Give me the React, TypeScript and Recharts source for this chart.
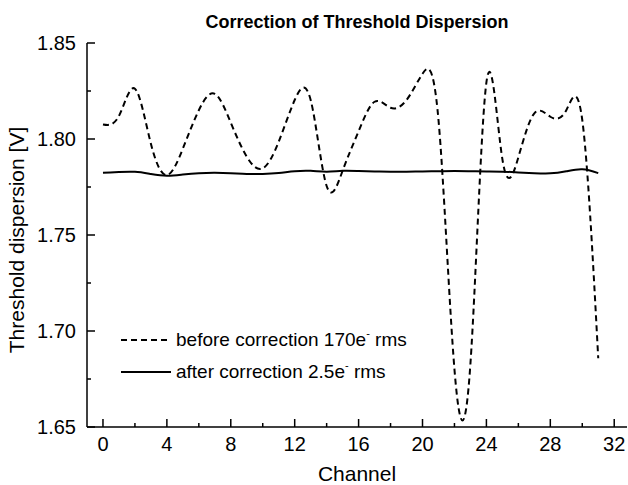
import React from 'react';
import { LineChart, Line, XAxis, YAxis, Legend } from 'recharts';

// ---------- data ----------
const channels = [
  0, 1, 2, 3, 4, 5, 6, 7, 8, 9, 10, 11, 12, 13, 14, 15,
  16, 17, 18, 19, 20, 21, 22, 23, 24, 25, 26, 27, 28, 29, 30, 31,
];
const beforeCorrection = [
  1.8076, 1.8120, 1.8262, 1.7975, 1.7812, 1.7950, 1.8150, 1.8235,
  1.8085, 1.7908, 1.7847, 1.7986, 1.8203, 1.8203, 1.7755, 1.7835,
  1.8040, 1.8194, 1.8163, 1.8203, 1.8340, 1.8100, 1.6800, 1.6830,
  1.8295, 1.7895, 1.7905, 1.8134, 1.8116, 1.8150, 1.8099, 1.6858,
];
const afterCorrection = [
  1.7824, 1.7828, 1.7829, 1.7818, 1.7809, 1.7815, 1.7822, 1.7824,
  1.7822, 1.7818, 1.7818, 1.7823, 1.7832, 1.7834, 1.7830, 1.7834,
  1.7833, 1.7831, 1.7830, 1.7830, 1.7831, 1.7832, 1.7833, 1.7832,
  1.7831, 1.7830, 1.7826, 1.7822, 1.7821, 1.7832, 1.7842, 1.7822,
];
const xTicks = [0, 2, 4, 6, 8, 10, 12, 14, 16, 18, 20, 22, 24, 26, 28, 30, 32];
const yTicks = [1.65, 1.675, 1.7, 1.725, 1.75, 1.775, 1.8, 1.825, 1.85];
const xDomain = [-1, 32.8];
const yDomain = [1.65, 1.85];
const seriesNames = ['before correction 170e', 'after correction 2.5e'];
const seriesSuffix = ' rms';
const chartTitle = 'Correction of Threshold Dispersion';
const xTitle = 'Channel';
const yTitle = 'Threshold dispersion [V]';

const data = channels.map((ch, i) => ({
  ch,
  before: beforeCorrection[i],
  after: afterCorrection[i],
}));

// ---------- style ----------
const FONT = '"Liberation Sans", Arial, Helvetica, sans-serif';
const AXIS_W = 1.5;
const TICK_FONT = 20;
const isMajorX = (v: number) => Math.round(v) % 4 === 0;
const isMajorY = (v: number) => Math.round(v * 1000) % 50 === 0;
const DASH = '6 4';

const BottomTick = (props: any) => {
  const { x, y, payload } = props;
  const v = payload.value;
  const major = isMajorX(v);
  return (
    <g>
      <line x1={x} x2={x} y1={y} y2={y - (major ? 8 : 4)} stroke="#000" strokeWidth={AXIS_W} />
      {major && (
        <text x={x} y={y + 24} textAnchor="middle" fontSize={TICK_FONT} fontFamily={FONT} fill="#000">
          {v}
        </text>
      )}
    </g>
  );
};

const TopTick = (props: any) => {
  const { x, y, payload } = props;
  const major = isMajorX(payload.value);
  return <line x1={x} x2={x} y1={y} y2={y + (major ? 8 : 4)} stroke="#000" strokeWidth={AXIS_W} />;
};

const LeftTick = (props: any) => {
  const { x, y, payload } = props;
  const v = payload.value;
  const major = isMajorY(v);
  return (
    <g>
      <line x1={x} x2={x + (major ? 8 : 4)} y1={y} y2={y} stroke="#000" strokeWidth={AXIS_W} />
      {major && (
        <text x={x - 11} y={y + 7} textAnchor="end" fontSize={TICK_FONT} fontFamily={FONT} fill="#000">
          {v.toFixed(2)}
        </text>
      )}
    </g>
  );
};

const RightTick = (props: any) => {
  const { x, y, payload } = props;
  const major = isMajorY(payload.value);
  return <line x1={x} x2={x - (major ? 8 : 4)} y1={y} y2={y} stroke="#000" strokeWidth={AXIS_W} />;
};

const renderLegend = () => (
  <div style={{ fontFamily: FONT, fontSize: 19, color: '#000' }}>
    {seriesNames.map((name, i) => (
      <div key={name} style={{ display: 'flex', alignItems: 'center', height: 32 }}>
        <svg width={50} height={6} style={{ marginRight: 5 }}>
          <line
            x1={0}
            x2={50}
            y1={3}
            y2={3}
            stroke="#000"
            strokeWidth={2}
            strokeDasharray={i === 0 ? DASH : undefined}
          />
        </svg>
        <span style={{ whiteSpace: 'nowrap' }}>
          {name}
          <sup style={{ fontSize: 11, verticalAlign: 'top', position: 'relative', top: -2 }}>-</sup>
          {seriesSuffix}
        </span>
      </div>
    ))}
  </div>
);

export default function App() {
  return (
    <div style={{ position: 'absolute', left: 0, top: 0, width: 628, height: 485, background: '#fff' }}>
      <div
        style={{
          position: 'absolute',
          left: 87,
          width: 540,
          top: 11,
          height: 22,
          lineHeight: '22px',
          textAlign: 'center',
          fontFamily: FONT,
          fontWeight: 'bold',
          fontSize: 18,
          color: '#000',
        }}
      >
        {chartTitle}
      </div>
      <LineChart width={628} height={485} data={data} margin={{ top: 43, right: 1, bottom: 0, left: 0 }}>
        <XAxis
          dataKey="ch"
          type="number"
          domain={xDomain}
          allowDataOverflow
          ticks={xTicks}
          interval={0}
          height={58}
          tickLine={false}
          tickSize={0}
          tickMargin={0}
          tick={<BottomTick />}
          axisLine={{ stroke: '#000', strokeWidth: AXIS_W }}
          label={() => (
            <text x={357} y={481} textAnchor="middle" fontSize={21} fontFamily={FONT} fill="#000">
              {xTitle}
            </text>
          )}
        />
        <XAxis
          xAxisId="top"
          orientation="top"
          dataKey="ch"
          type="number"
          domain={xDomain}
          allowDataOverflow
          ticks={xTicks}
          interval={0}
          height={0}
          tickLine={false}
          tickSize={0}
          tickMargin={0}
          tick={<TopTick />}
          axisLine={{ stroke: '#000', strokeWidth: AXIS_W }}
        />
        <YAxis
          type="number"
          domain={yDomain}
          allowDataOverflow
          ticks={yTicks}
          interval={0}
          width={87}
          tickLine={false}
          tickSize={0}
          tickMargin={0}
          tick={<LeftTick />}
          axisLine={{ stroke: '#000', strokeWidth: AXIS_W }}
          label={() => (
            <text
              x={24}
              y={240}
              transform="rotate(-90 24 240)"
              textAnchor="middle"
              fontSize={21}
              fontFamily={FONT}
              fill="#000"
            >
              {yTitle}
            </text>
          )}
        />
        <YAxis
          yAxisId="right"
          orientation="right"
          type="number"
          domain={yDomain}
          allowDataOverflow
          ticks={yTicks}
          interval={0}
          width={0}
          tickLine={false}
          tickSize={0}
          tickMargin={0}
          tick={<RightTick />}
          axisLine={{ stroke: '#000', strokeWidth: AXIS_W }}
        />
        <Legend
          content={renderLegend}
          layout="vertical"
          align="center"
          verticalAlign="middle"
          wrapperStyle={{ left: 121, top: 324, width: 340 }}
        />
        <Line
          type="natural"
          dataKey="before"
          name={seriesNames[0]}
          stroke="#000"
          strokeWidth={2}
          strokeDasharray={DASH}
          dot={false}
          activeDot={false}
          isAnimationActive={false}
        />
        <Line
          type="natural"
          dataKey="after"
          name={seriesNames[1]}
          stroke="#000"
          strokeWidth={2}
          dot={false}
          activeDot={false}
          isAnimationActive={false}
        />
      </LineChart>
    </div>
  );
}
